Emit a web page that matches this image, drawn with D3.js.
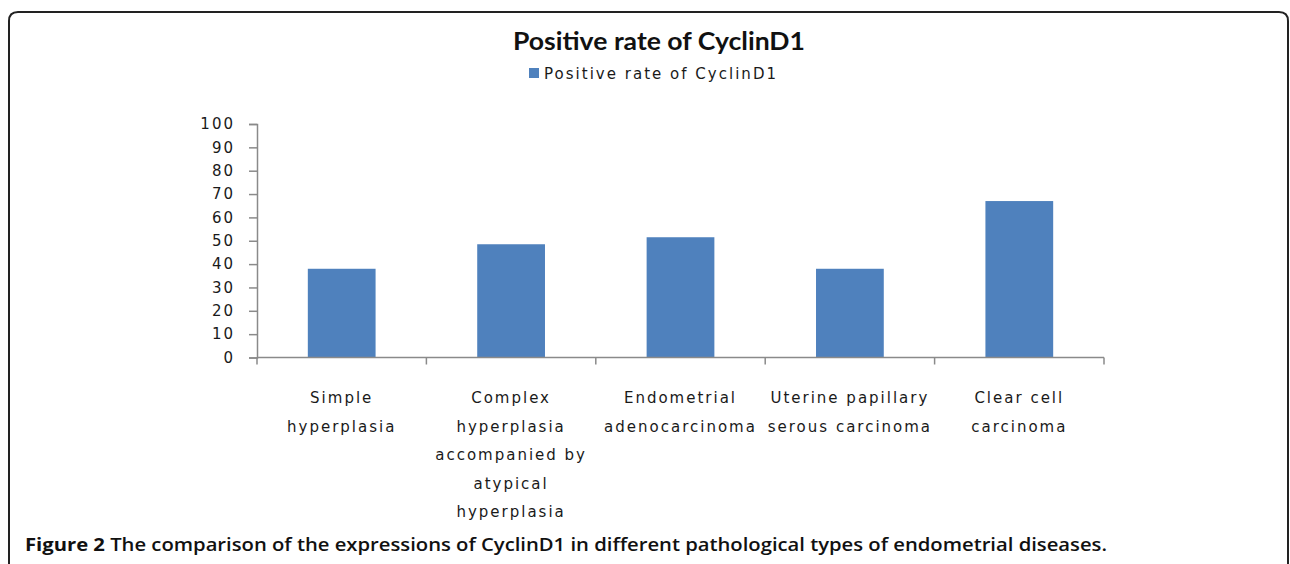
<!DOCTYPE html>
<html>
<head>
<meta charset="utf-8">
<script src="https://cdn.jsdelivr.net/npm/d3@7"></script>
<style>
  body { margin: 0; background: #fff; }
  svg { display: block; }
</style>
</head>
<body>
<svg width="1290" height="564"></svg>
<script>
// chart data
const categories = [
    "Simple\nhyperplasia",
    "Complex\nhyperplasia\naccompanied by\natypical\nhyperplasia",
    "Endometrial\nadenocarcinoma",
    "Uterine papillary\nserous carcinoma",
    "Clear cell\ncarcinoma"
];
const values = [38, 48.5, 51.5, 38, 67];
const yTicks = [0, 10, 20, 30, 40, 50, 60, 70, 80, 90, 100];
const title = "Positive rate of CyclinD1";
const seriesName = "Positive rate of CyclinD1";

let svg = d3.select('svg');
let width = +svg.attr('width');
let height = +svg.attr('height');

const barColor = '#4F81BD';
const axisColor = '#8a8a8a';
const labelFont = '"DejaVu Sans", Verdana, sans-serif';

// rounded frame around the figure
let r = 9;
svg.append('path')
    .attr('d', `M9,${height} L9,${12 + r} Q9,12 ${9 + r},12 L${1288 - r},12 Q1288,12 1288,${12 + r} L1288,${height}`)
    .attr('fill', 'none')
    .attr('stroke', '#222')
    .attr('stroke-width', 2);

// scales
let xScale = d3.scaleBand()
    .domain(categories)
    .range([257, 1104])
    .paddingInner(0.6)
    .paddingOuter(0.3);

let yScale = d3.scaleLinear()
    .domain([0, 100])
    .range([357.5, 124]);

// y axis
let yAxis = svg.append('g')
    .attr('transform', 'translate(257,0)')
    .call(d3.axisLeft(yScale).tickValues(yTicks).tickSize(8).tickPadding(14));
yAxis.select('.domain').attr('stroke', axisColor).attr('stroke-width', 1.5);
yAxis.selectAll('.tick line').attr('stroke', axisColor).attr('stroke-width', 1.5);
yAxis.selectAll('.tick text')
    .attr('font-family', labelFont)
    .attr('font-size', 15)
    .attr('letter-spacing', 2)
    .attr('fill', '#1a1a1a');

// bars
svg.selectAll('rect.bar').data(values)
    .enter().append('rect')
    .attr('class', 'bar')
    .attr('x', (d, i) => xScale(categories[i]))
    .attr('y', d => yScale(d))
    .attr('width', xScale.bandwidth())
    .attr('height', d => yScale(0) - yScale(d))
    .attr('fill', barColor);

// x axis with ticks between categories
let step = xScale.step();
let bounds = [xScale(categories[0]) + xScale.bandwidth() / 2 - step / 2]
    .concat(categories.map(c => xScale(c) + xScale.bandwidth() / 2 + step / 2));
svg.append('line')
    .attr('x1', bounds[0]).attr('x2', bounds[bounds.length - 1])
    .attr('y1', yScale(0)).attr('y2', yScale(0))
    .attr('stroke', axisColor).attr('stroke-width', 1.5);
svg.selectAll('line.xtick').data(bounds)
    .enter().append('line')
    .attr('class', 'xtick')
    .attr('x1', d => d).attr('x2', d => d)
    .attr('y1', yScale(0)).attr('y2', yScale(0) + 7)
    .attr('stroke', axisColor).attr('stroke-width', 1.5);

// category labels, wrapped
let lineHeight = 28.5;
categories.forEach(c => {
    let t = svg.append('text')
        .attr('x', xScale(c) + xScale.bandwidth() / 2)
        .attr('y', 403)
        .attr('text-anchor', 'middle')
        .attr('font-family', labelFont)
        .attr('font-size', 15)
        .attr('letter-spacing', 2)
        .attr('fill', '#1a1a1a');
    c.split('\n').forEach((line, i) => {
        t.append('tspan')
            .attr('x', xScale(c) + xScale.bandwidth() / 2)
            .attr('dy', i === 0 ? 0 : lineHeight)
            .text(line);
    });
});

// title
svg.append('text')
    .attr('x', 659)
    .attr('y', 50)
    .attr('text-anchor', 'middle')
    .attr('font-family', 'Lato, "Open Sans", sans-serif')
    .attr('font-weight', 'bold')
    .attr('font-size', 25)
    .attr('textLength', 292)
    .attr('lengthAdjust', 'spacingAndGlyphs')
    .attr('fill', '#111')
    .text(title);

// legend
svg.append('rect')
    .attr('x', 529).attr('y', 68)
    .attr('width', 10).attr('height', 10)
    .attr('fill', barColor);
svg.append('text')
    .attr('x', 544)
    .attr('y', 79)
    .attr('font-family', labelFont)
    .attr('font-size', 15)
    .attr('textLength', 232)
    .attr('lengthAdjust', 'spacing')
    .attr('fill', '#1a1a1a')
    .text(seriesName);

// figure caption
let cap = svg.append('text')
    .attr('x', 25)
    .attr('y', 551)
    .attr('font-family', '"Open Sans", "Noto Sans", sans-serif')
    .attr('font-size', 18)
    .attr('fill', '#111')
    .attr('textLength', 1082)
    .attr('lengthAdjust', 'spacingAndGlyphs');
cap.append('tspan').attr('font-weight', 700).text('Figure 2 ');
cap.append('tspan').attr('font-weight', 600)
    .text('The comparison of the expressions of CyclinD1 in different pathological types of endometrial diseases.');
</script>
</body>
</html>
